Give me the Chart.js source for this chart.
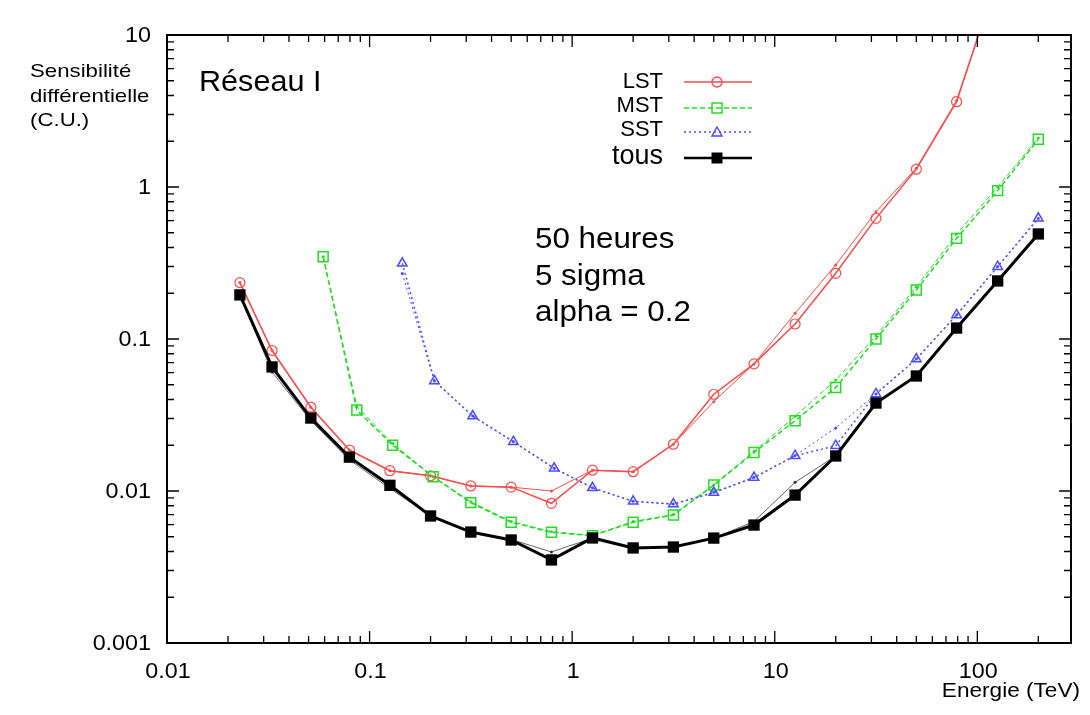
<!DOCTYPE html>
<html>
<head>
<meta charset="utf-8">
<script src="https://cdn.jsdelivr.net/npm/chart.js@4/dist/chart.umd.min.js"></script>
<style>
  html, body { margin: 0; padding: 0; background: #fff; }
</style>
</head>
<body>
<canvas id="chartSens" width="1090" height="715"></canvas>
<script>
// energies (TeV)
const energyAll = [0.0229, 0.033, 0.0513, 0.0795, 0.126, 0.2, 0.316, 0.5, 0.79, 1.26, 2, 3.16, 5, 7.9, 12.6, 20, 31.6, 50, 79, 126, 200];
const energyMST = [0.059, 0.0865, 0.13, 0.206, 0.316, 0.5, 0.79, 1.26, 2, 3.16, 5, 7.9, 12.6, 20, 31.6, 50, 79, 126, 200];
const energySST = [0.145, 0.209, 0.323, 0.513, 0.815, 1.26, 2, 3.16, 5, 7.9, 12.6, 20, 31.6, 50, 79, 126, 200];

// sensitivity (C.U.) - marked curves
const lstMain  = [0.235, 0.084, 0.0356, 0.0186, 0.0136, 0.0126, 0.0108, 0.0106, 0.0083, 0.0137, 0.0134, 0.0203, 0.0433, 0.0686, 0.1255, 0.2705, 0.622, 1.31, 3.64, 24];
const mstMain  = [0.348, 0.0341, 0.020, 0.0124, 0.00838, 0.00623, 0.00535, 0.00508, 0.00623, 0.00695, 0.01094, 0.0179, 0.029, 0.048, 0.10, 0.21, 0.459, 0.946, 2.06];
const sstMain  = [0.315, 0.053, 0.0311, 0.0211, 0.0141, 0.0105, 0.00855, 0.0082, 0.00976, 0.01225, 0.01706, 0.01986, 0.0435, 0.0738, 0.1439, 0.299, 0.622];
const tousMain = [0.195, 0.0655, 0.0302, 0.0167, 0.0109, 0.00685, 0.00537, 0.00476, 0.00352, 0.00491, 0.00422, 0.00428, 0.0049, 0.00597, 0.0094, 0.0170, 0.0379, 0.0571, 0.118, 0.241, 0.491];

// second (thin, small dots) curve of each group
const lstAlt  = [0.235, 0.084, 0.0356, 0.0186, 0.0136, 0.0126, 0.0108, 0.0106, 0.0100, 0.0137, 0.0134, 0.0203, 0.0387, 0.0686, 0.1476, 0.307, 0.688, 1.33, 3.7, 24];
const mstAlt  = [0.348, 0.036, 0.0205, 0.0124, 0.0085, 0.0063, 0.0054, 0.0051, 0.0063, 0.0070, 0.0110, 0.0182, 0.031, 0.0537, 0.105, 0.22, 0.49, 1.0, 2.1];
const sstAlt  = [0.27, 0.053, 0.0311, 0.0211, 0.0141, 0.0105, 0.00855, 0.0082, 0.0098, 0.0123, 0.0171, 0.026, 0.0435, 0.0738, 0.144, 0.30, 0.62];
const tousAlt = [0.195, 0.0607, 0.029, 0.016, 0.0104, 0.00685, 0.0054, 0.0048, 0.00397, 0.0049, 0.0042, 0.0043, 0.0049, 0.0063, 0.0114, 0.0170, 0.0379, 0.0571, 0.118, 0.241, 0.48];

const legendNames = ["LST", "MST", "SST", "tous"];
const xTickLabels = ["0.01", "0.1", "1", "10", "100"];
const yTickLabels = ["0.001", "0.01", "0.1", "1", "10"];
const infoLines = ["50 heures", "5 sigma", "alpha = 0.2"];

const RED = "#ff4a4a", GREEN = "#22dd22", BLUE = "#4b4bff", BLACK = "#000";
const FONT = "'Liberation Sans', Arial, sans-serif";

function pts(xs, ys) {
  return ys.map((y, i) => ({ x: xs[i], y: y }));
}

const datasets = [
  { label: "LST", data: pts(energyAll, lstMain), borderColor: RED, borderWidth: 1.5,
    pointStyle: "circle", pointRadius: 5, pointBorderColor: RED, pointBackgroundColor: "rgba(0,0,0,0)", pointBorderWidth: 1.2, order: 3 },
  { label: "MST", data: pts(energyMST, mstMain), borderColor: GREEN, borderWidth: 1.5, borderDash: [5, 3],
    pointStyle: "rect", pointRadius: 7, pointBorderColor: GREEN, pointBackgroundColor: "rgba(0,0,0,0)", pointBorderWidth: 1.5, order: 2 },
  { label: "SST", data: pts(energySST, sstMain), borderColor: BLUE, borderWidth: 1.5, borderDash: [2, 3],
    pointStyle: "triangle", pointRadius: 5.5, pointBorderColor: BLUE, pointBackgroundColor: "rgba(0,0,0,0)", pointBorderWidth: 1.5, order: 1 },
  { label: "tous", data: pts(energyAll, tousMain), borderColor: BLACK, borderWidth: 3,
    pointStyle: "rect", pointRadius: 8, pointBorderColor: BLACK, pointBackgroundColor: BLACK, pointBorderWidth: 0, order: 0 },

  { label: "LST b", data: pts(energyAll, lstAlt), borderColor: RED, borderWidth: 1,
    pointRadius: 1.5, pointBackgroundColor: RED, pointBorderWidth: 0, order: 13 },
  { label: "MST b", data: pts(energyMST, mstAlt), borderColor: GREEN, borderWidth: 1, borderDash: [5, 3],
    pointRadius: 1.5, pointBackgroundColor: GREEN, pointBorderWidth: 0, order: 12 },
  { label: "SST b", data: pts(energySST, sstAlt), borderColor: BLUE, borderWidth: 1, borderDash: [2, 3],
    pointRadius: 1.5, pointBackgroundColor: BLUE, pointBorderWidth: 0, order: 11 },
  { label: "tous b", data: pts(energyAll, tousAlt), borderColor: "#666", borderWidth: 1,
    pointRadius: 1.5, pointBackgroundColor: "#333", pointBorderWidth: 0, order: 10 },
];
datasets.forEach(d => { d.showLine = true; d.tension = 0; d.fill = false; });

// text a little wider than the font, like the original picture
function wideText(ctx, text, x, y, sx, align) {
  ctx.save();
  ctx.translate(x, y);
  ctx.scale(sx, 1);
  ctx.textAlign = align;
  ctx.fillText(text, 0, 0);
  ctx.restore();
}

function drawMarker(ctx, style, x, y, color) {
  ctx.save();
  ctx.strokeStyle = color;
  ctx.fillStyle = color;
  ctx.lineWidth = 1.4;
  ctx.setLineDash([]);
  ctx.beginPath();
  if (style === "circle") {
    ctx.arc(x, y, 5, 0, Math.PI * 2);
    ctx.stroke();
  } else if (style === "square") {
    ctx.rect(x - 5, y - 5, 10, 10);
    ctx.stroke();
  } else if (style === "triangle") {
    ctx.moveTo(x, y - 5);
    ctx.lineTo(x + 5, y + 4);
    ctx.lineTo(x - 5, y + 4);
    ctx.closePath();
    ctx.stroke();
  } else {
    ctx.rect(x - 5.5, y - 5.5, 11, 11);
    ctx.fill();
  }
  ctx.restore();
}

// frame, inward ticks, labels, notes and legend
const decorPlugin = {
  id: "decor",
  afterDraw(chart) {
    const ctx = chart.ctx;
    const a = chart.chartArea;
    const xs = chart.scales.x, ys = chart.scales.y;
    ctx.save();

    ctx.strokeStyle = "#000";
    ctx.lineWidth = 2;
    ctx.setLineDash([]);
    ctx.strokeRect(a.left, a.top, a.right - a.left, a.bottom - a.top);

    ctx.lineWidth = 1.3;
    ctx.beginPath();
    for (let d = -2; d <= 2; d++) {
      for (let k = 1; k <= 9; k++) {
        const v = k * Math.pow(10, d);
        if (v <= xs.min || v >= xs.max) continue;
        const px = xs.getPixelForValue(v);
        const len = k === 1 ? 12 : 7;
        ctx.moveTo(px, a.bottom); ctx.lineTo(px, a.bottom - len);
        ctx.moveTo(px, a.top); ctx.lineTo(px, a.top + len);
      }
    }
    for (let d = -3; d <= 0; d++) {
      for (let k = 1; k <= 9; k++) {
        const v = k * Math.pow(10, d);
        if (v <= ys.min || v >= ys.max) continue;
        const py = ys.getPixelForValue(v);
        const len = k === 1 ? 12 : 7;
        ctx.moveTo(a.left, py); ctx.lineTo(a.left + len, py);
        ctx.moveTo(a.right, py); ctx.lineTo(a.right - len, py);
      }
    }
    ctx.stroke();

    ctx.fillStyle = "#000";
    ctx.font = "22px " + FONT;
    ctx.textBaseline = "alphabetic";
    xTickLabels.forEach(t => {
      wideText(ctx, t, xs.getPixelForValue(parseFloat(t)) + 1, 678, 1.06, "center");
    });
    ctx.textBaseline = "middle";
    yTickLabels.forEach(t => {
      wideText(ctx, t, 151, ys.getPixelForValue(parseFloat(t)) + 1, 1.06, "right");
    });

    ctx.textBaseline = "alphabetic";
    ctx.font = "20px " + FONT;
    wideText(ctx, "Energie (TeV)", 1080, 697, 1.13, "right");
    ctx.font = "19px " + FONT;
    wideText(ctx, "Sensibilité", 30, 77, 1.17, "left");
    wideText(ctx, "différentielle", 30, 102, 1.17, "left");
    wideText(ctx, "(C.U.)", 30, 126, 1.17, "left");

    ctx.font = "30px " + FONT;
    wideText(ctx, "Réseau I", 199, 91, 1.02, "left");
    ctx.font = "29px " + FONT;
    infoLines.forEach((t, i) => wideText(ctx, t, 535, 248 + i * 36.5, 1.08, "left"));

    // legend
    const rows = [
      { y: 82, base: 88, size: 22, color: RED, dash: [], lw: 1.5, marker: "circle" },
      { y: 108, base: 112, size: 22, color: GREEN, dash: [5, 3], lw: 1.5, marker: "square" },
      { y: 132, base: 136, size: 22, color: BLUE, dash: [2, 3], lw: 1.5, marker: "triangle" },
      { y: 158, base: 164, size: 27, color: BLACK, dash: [], lw: 2.5, marker: "filled" },
    ];
    rows.forEach((r, i) => {
      ctx.font = r.size + "px " + FONT;
      ctx.fillStyle = "#000";
      wideText(ctx, legendNames[i], 663, r.base, 1.0, "right");
      ctx.strokeStyle = r.color;
      ctx.lineWidth = r.lw;
      ctx.setLineDash(r.dash);
      ctx.beginPath();
      ctx.moveTo(684, r.y); ctx.lineTo(752, r.y);
      ctx.stroke();
      drawMarker(ctx, r.marker, 717, r.y, r.color);
    });
    ctx.restore();
  }
};

new Chart(document.getElementById("chartSens"), {
  type: "scatter",
  data: { datasets: datasets },
  options: {
    responsive: false,
    animation: false,
    devicePixelRatio: 1,
    layout: { padding: { left: 167, top: 35, right: 19, bottom: 72 } },
    scales: {
      x: { type: "logarithmic", min: 0.01, max: 290, display: false },
      y: { type: "logarithmic", min: 0.001, max: 10, display: false },
    },
    plugins: { legend: { display: false }, tooltip: { enabled: false } },
  },
  plugins: [decorPlugin],
});
</script>
</body>
</html>
